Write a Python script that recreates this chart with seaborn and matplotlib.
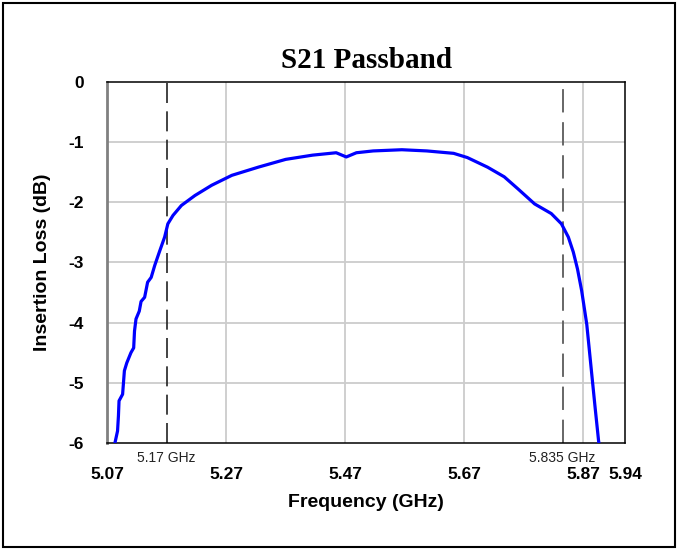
import matplotlib
matplotlib.use("Agg")
import matplotlib.pyplot as plt
import seaborn as sns
import pandas as pd
from matplotlib.patches import Rectangle

freq_ghz = [5.082, 5.0875, 5.089, 5.090, 5.096, 5.099, 5.103, 5.110, 5.1146, 5.116,
            5.1185, 5.124, 5.127, 5.133, 5.138, 5.144, 5.150, 5.158, 5.1666, 5.172,
            5.1807, 5.1948, 5.2175, 5.2456, 5.2795, 5.3247, 5.370, 5.415, 5.4547, 5.4717,
            5.4887, 5.5168, 5.565, 5.607, 5.652, 5.675, 5.709, 5.737, 5.760, 5.788,
            5.816, 5.833, 5.8446, 5.853, 5.860, 5.867, 5.8756, 5.884, 5.8897, 5.8955, 5.897]
loss_db = [-6.05, -5.80, -5.55, -5.30, -5.19, -4.80, -4.67, -4.50, -4.42, -4.14,
           -3.94, -3.81, -3.65, -3.58, -3.33, -3.25, -3.05, -2.82, -2.58, -2.36,
           -2.22, -2.055, -1.89, -1.72, -1.555, -1.417, -1.29, -1.22, -1.18, -1.25,
           -1.18, -1.15, -1.13, -1.15, -1.19, -1.26, -1.42, -1.58, -1.78, -2.03,
           -2.19, -2.36, -2.58, -2.83, -3.11, -3.47, -4.03, -4.86, -5.42, -5.97, -6.05]

x_ticks = [5.07, 5.27, 5.47, 5.67, 5.87, 5.94]
x_tick_labels = ["5.07", "5.27", "5.47", "5.67", "5.87", "5.94"]
x_grid = [5.27, 5.47, 5.67, 5.87]
y_ticks = [0, -1, -2, -3, -4, -5, -6]
markers_ghz = [5.17, 5.835]
marker_labels = ["5.17 GHz", "5.835 GHz"]

sns.set_theme(style="white")
plt.rcParams['font.family'] = ['Liberation Sans', 'DejaVu Sans']

df = pd.DataFrame({"Frequency (GHz)": freq_ghz, "Insertion Loss (dB)": loss_db})

fig = plt.figure(figsize=(6.78, 5.5), dpi=100)
ax = fig.add_axes([0.158, 0.1945, 0.764, 0.657])

for xg in x_grid:
    ax.axvline(xg, color="#cccccc", lw=1.3, zorder=0)
for yg in y_ticks[1:-1]:
    ax.axhline(yg, color="#cccccc", lw=1.3, zorder=0)

ax.axvline(markers_ghz[0], color="#222222", lw=1.2, dashes=(12, 5), zorder=1)
ax.axvline(markers_ghz[1], color="#666666", lw=1.4, dashes=(12, 5), zorder=1)

sns.lineplot(data=df, x="Frequency (GHz)", y="Insertion Loss (dB)", ax=ax,
             color="#0000ff", lw=2.3, estimator=None, sort=False, zorder=3)

ax.set_xlim(5.07, 5.94)
ax.set_ylim(-6, 0)
ax.set_xticks(x_ticks)
ax.set_xticklabels(x_tick_labels)
ax.set_yticks(y_ticks)
ax.set_yticklabels([str(v) for v in y_ticks])
ax.tick_params(axis="x", length=0, pad=17, labelsize=12.5)
ax.tick_params(axis="y", length=0, pad=17, labelsize=12.5)
for lab in ax.get_xticklabels() + ax.get_yticklabels():
    lab.set_fontweight("bold")
    lab.set_color("black")

ax.set_xlabel("Frequency (GHz)", fontsize=14, fontweight="bold", color="black", labelpad=9)
ax.set_ylabel("Insertion Loss (dB)", fontsize=14, fontweight="bold", color="black", labelpad=12)
ax.set_title("S21 Passband", fontsize=21, fontweight="bold", family="Liberation Serif",
             color="black", pad=10)

for xm, lbl in zip(markers_ghz, marker_labels):
    ax.annotate(lbl, xy=(xm, 0), xycoords=("data", "axes fraction"),
                xytext=(0, -11), textcoords="offset points",
                ha="center", va="center", fontsize=10, color="#222222")

for side in ["top", "bottom", "right"]:
    ax.spines[side].set_color("black")
    ax.spines[side].set_linewidth(1.1)
ax.spines["left"].set_color("#808080")
ax.spines["left"].set_linewidth(2)

fig.patches.append(Rectangle((0.005, 0.005), 0.99, 0.99, transform=fig.transFigure,
                             fill=False, edgecolor="black", lw=1.5))

fig.savefig("out.png", dpi=100)
